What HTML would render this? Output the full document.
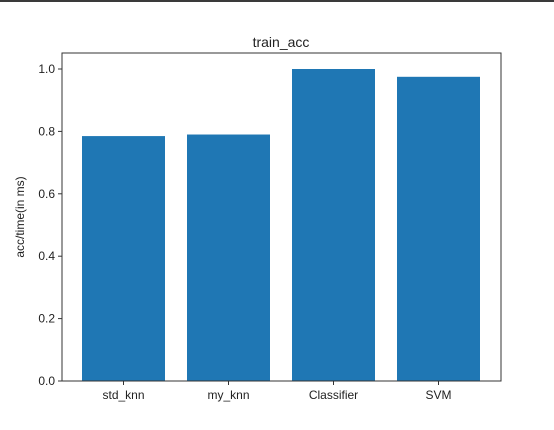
<!DOCTYPE html>
<html><head><meta charset="utf-8"><style>
body{margin:0;background:#fff;width:554px;height:425px;overflow:hidden}
text{font-family:"Liberation Sans","DejaVu Sans",sans-serif;fill:#222}
</style></head><body>
<svg id="c" width="554" height="425">
<rect x="0" y="0" width="554" height="2" fill="#3a3a3a"/>
<text x="281" y="47" font-size="14" text-anchor="middle">train_acc</text>
<text transform="translate(24,217) rotate(-90)" font-size="12" text-anchor="middle">acc/time(in ms)</text>
<g id="bars"></g><g id="yt"></g><g id="xt"></g>
<rect x="62" y="53" width="439" height="328" fill="none" stroke="#333" stroke-width="1"/>
</svg>
<script>
const categories=["std_knn","my_knn","Classifier","SVM"];
const values=[0.785,0.79,1.0,0.975];
const yTicks=[0,0.2,0.4,0.6,0.8,1.0];
const tickLabels=["0.0","0.2","0.4","0.6","0.8","1.0"];
const NS="http://www.w3.org/2000/svg";
function y(v){return 381-v*312;}
function xc(i){return 123.5+105*i;}
const bw=83;
const bars=document.getElementById('bars'),yt=document.getElementById('yt'),xt=document.getElementById('xt');
function mk(tag,attrs,parent){const e=document.createElementNS(NS,tag);for(const k in attrs)e.setAttribute(k,attrs[k]);parent.appendChild(e);return e;}
values.forEach((v,i)=>{
 const r=mk('rect',{x:xc(i)-bw/2,y:y(v),width:bw,height:y(0)-y(v),fill:'#1f77b4'},bars);
 
 
 const t=mk('line',{x1:xc(i),x2:xc(i),y1:381,y2:385,stroke:'#333'},xt);
 
 
 const l=mk('text',{x:xc(i),y:399,'font-size':12,'text-anchor':'middle'},xt);
 l.textContent=categories[i];
 
 
});
yTicks.forEach((v,i)=>{
 const t=mk('line',{x1:58,x2:62,y1:y(v),y2:y(v),stroke:'#333'},yt);
 
 
 const l=mk('text',{x:55,y:y(v)+4,'font-size':12,'text-anchor':'end'},yt);
 l.textContent=tickLabels[i];
 
 
});
</script>
</body></html>
